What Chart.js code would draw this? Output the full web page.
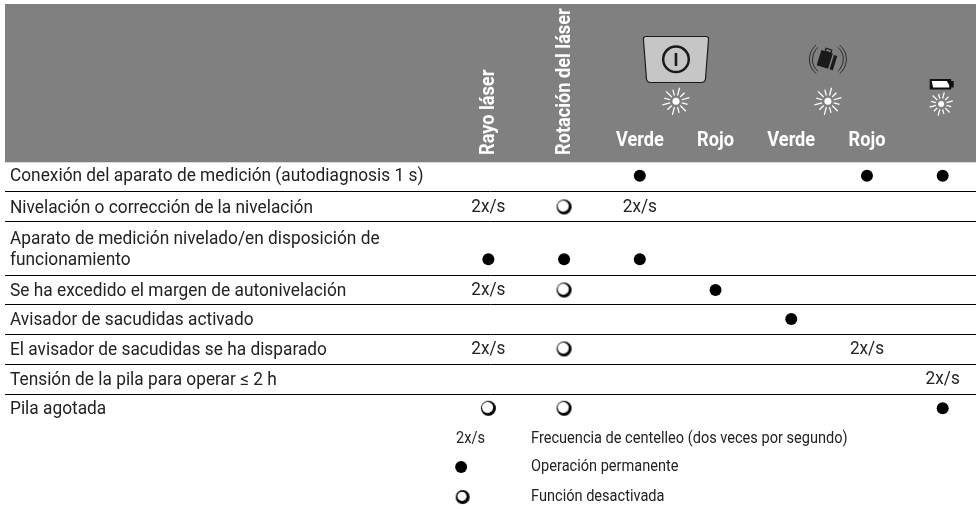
<!DOCTYPE html>
<html>
<head>
<meta charset="utf-8">
<style>
  html, body { margin: 0; padding: 0; background: #fff; }
  canvas { display: block; }
</style>
<script src="https://cdn.jsdelivr.net/npm/chart.js@4"></script>
</head>
<body>
<canvas id="statusChart" width="976" height="509"></canvas>
<script>
// --- data ---
const rowLabels = [
    ['Conexión del aparato de medición (autodiagnosis 1 s)'],
    ['Nivelación o corrección de la nivelación'],
    ['Aparato de medición nivelado/en disposición de', 'funcionamiento'],
    ['Se ha excedido el margen de autonivelación'],
    ['Avisador de sacudidas activado'],
    ['El avisador de sacudidas se ha disparado'],
    ['Tensión de la pila para operar ≤ 2 h'],
    ['Pila agotada']
];
const rayoLaser     = ['',   '2x/s', 'on',   '2x/s', '',   '2x/s', '',     'off'];
const rotacionLaser = ['',   'off',  'on',   'off',  '',   'off',  '',     'off'];
const botonVerde    = ['on', '2x/s', 'on',   '',     '',   '',     '',     ''];
const botonRojo     = ['',   '',     '',     'on',   '',   '',     '',     ''];
const sacudidaVerde = ['',   '',     '',     '',     'on', '',     '',     ''];
const sacudidaRojo  = ['on', '',     '',     '',     '',   '2x/s', '',     ''];
const pilaEstado    = ['on', '',     '',     '',     '',   '',     '2x/s', 'on'];
const columnSeries = [rayoLaser, rotacionLaser, botonVerde, botonRojo, sacudidaVerde, sacudidaRojo, pilaEstado];

const rotatedHeads = ['Rayo láser', 'Rotación del láser'];
const colorHeads = ['Verde', 'Rojo', 'Verde', 'Rojo'];
const legendLabels = ['Frecuencia de centelleo (dos veces por segundo)', 'Operación permanente', 'Función desactivada'];

// row rules in y-axis units (1 unit = one text row), 0 is the bottom of the grey header
const rowRules = [0.973, 1.973, 3.773, 4.74, 5.74, 6.74, 7.74];
const rowCenters = [0.447, 1.49, 3.233, 4.257, 5.223, 6.223, 7.24, 8.2];
const legendRows = [9.223, 10.157, 11.157];

const ink = '#222';
const bodyFont = '18.5px Roboto';
const smallFont = '16px Roboto';
const headFont = 'bold 21px Roboto';

// open circle with the heavier lower right edge
function makeOpenMark(outer, inner, shift) {
    const size = Math.ceil(outer * 2) + 2;
    const mid = size / 2;
    const c = document.createElement('canvas');
    c.width = size; c.height = size;
    const g = c.getContext('2d');
    g.fillStyle = '#000';
    g.beginPath(); g.arc(mid, mid, outer, 0, Math.PI * 2); g.fill();
    g.fillStyle = '#fff';
    g.beginPath(); g.arc(mid - shift, mid - shift, inner, 0, Math.PI * 2); g.fill();
    return c;
}

function cellPoints(state) {
    const pts = [];
    columnSeries.forEach((series, col) => {
        series.forEach((v, row) => {
            if (v === state) pts.push({ x: col, y: rowCenters[row] });
        });
    });
    return pts;
}

const keyColumn = -0.36;

function squeezed(ctx, text, x, y, factor) {
    ctx.save();
    ctx.translate(x, y);
    ctx.scale(factor, 1);
    ctx.fillText(text, 0, 0);
    ctx.restore();
}

function drawSpark(ctx, x, y, r, dot) {
    ctx.save();
    ctx.strokeStyle = '#fff';
    ctx.fillStyle = '#fff';
    ctx.lineWidth = 1.25;
    for (let i = 0; i < 12; i++) {
        const a = i * Math.PI / 6 + Math.PI / 12;
        const end = i % 2 ? r : r * 0.86;
        ctx.beginPath();
        ctx.moveTo(x + Math.cos(a) * (dot + 2.5), y + Math.sin(a) * (dot + 2.5));
        ctx.lineTo(x + Math.cos(a) * end, y + Math.sin(a) * end);
        ctx.stroke();
    }
    ctx.beginPath(); ctx.arc(x, y, dot, 0, Math.PI * 2); ctx.fill();
    ctx.restore();
}

function drawButton(ctx, cx) {
    ctx.save();
    ctx.fillStyle = '#c6c6c6';
    ctx.strokeStyle = '#1a1a1a';
    ctx.lineWidth = 1.2;
    ctx.beginPath();
    ctx.moveTo(cx - 30, 36.5);
    ctx.lineTo(cx + 30, 36.5);
    ctx.quadraticCurveTo(cx + 33, 36.5, cx + 32.5, 40);
    ctx.lineTo(cx + 29.5, 79);
    ctx.quadraticCurveTo(cx + 29, 82.5, cx + 25, 82.5);
    ctx.lineTo(cx - 25, 82.5);
    ctx.quadraticCurveTo(cx - 29, 82.5, cx - 29.5, 79);
    ctx.lineTo(cx - 32.5, 40);
    ctx.quadraticCurveTo(cx - 33, 36.5, cx - 30, 36.5);
    ctx.closePath();
    ctx.fill(); ctx.stroke();
    ctx.lineWidth = 2.5;
    ctx.beginPath(); ctx.arc(cx, 59.3, 12.8, 0, Math.PI * 2); ctx.stroke();
    ctx.lineWidth = 2.6;
    ctx.beginPath(); ctx.moveTo(cx, 53); ctx.lineTo(cx, 66); ctx.stroke();
    ctx.restore();
}

function drawShake(ctx, cx) {
    ctx.save();
    ctx.translate(cx, 59.3);
    ctx.strokeStyle = '#222';
    ctx.lineWidth = 0.9;
    [15.5, 18.5].forEach(r => {
        ctx.beginPath(); ctx.arc(0, 0, r, Math.PI * 0.72, Math.PI * 1.28); ctx.stroke();
        ctx.beginPath(); ctx.arc(0, 0, r, -Math.PI * 0.28, Math.PI * 0.28); ctx.stroke();
    });
    ctx.rotate(0.3);
    ctx.fillStyle = '#1a1a1a';
    ctx.fillRect(-9, -7, 12, 16);
    ctx.fillRect(4.5, -6, 3.5, 15);
    ctx.lineWidth = 1.2;
    ctx.strokeStyle = '#1a1a1a';
    ctx.strokeRect(-5, -10, 6, 3);
    ctx.restore();
}

function drawBattery(ctx, cx) {
    ctx.save();
    ctx.fillStyle = '#111';
    ctx.fillRect(cx - 12, 79, 21.5, 10.5);
    ctx.fillRect(cx + 9, 81, 3, 6.5);
    ctx.fillStyle = '#fff';
    ctx.beginPath();
    ctx.moveTo(cx - 10, 81); ctx.lineTo(cx + 5, 81); ctx.lineTo(cx + 7.5, 85);
    ctx.lineTo(cx + 7.5, 87.5); ctx.lineTo(cx - 8.5, 87.5);
    ctx.closePath(); ctx.fill();
    ctx.restore();
}

const tablePlugin = {
    id: 'tablePlugin',
    beforeDatasetsDraw(chart) {
        const ctx = chart.ctx;
        const xs = chart.scales.x, ys = chart.scales.y;
        const px = v => xs.getPixelForValue(v);
        const py = v => ys.getPixelForValue(v);

        // grey header band
        ctx.save();
        ctx.fillStyle = '#808080';
        ctx.fillRect(5, 4, 971, py(0) - 4);

        // header labels
        ctx.fillStyle = '#fff';
        ctx.font = headFont;
        ctx.textBaseline = 'alphabetic';
        ctx.textAlign = 'left';
        rotatedHeads.forEach((t, i) => {
            ctx.save();
            ctx.translate(px(i) + 6, 155);
            ctx.rotate(-Math.PI / 2);
            squeezed(ctx, t, 0, 0, 0.865);
            ctx.restore();
        });
        ctx.textAlign = 'center';
        colorHeads.forEach((t, i) => squeezed(ctx, t, px(i + 2), 146, 0.865));

        // header icons
        const buttonX = (px(2) + px(3)) / 2 - 1.7;
        const shakeX = (px(4) + px(5)) / 2 - 1.2;
        drawButton(ctx, buttonX);
        drawSpark(ctx, buttonX, 101.3, 14, 3.5);
        drawShake(ctx, shakeX);
        drawSpark(ctx, shakeX, 101.3, 14, 3.5);
        drawBattery(ctx, px(6) - 1);
        drawSpark(ctx, px(6) - 1.5, 104, 12, 3);

        // row labels
        ctx.fillStyle = ink;
        ctx.font = bodyFont;
        ctx.textAlign = 'left';
        ctx.textBaseline = 'middle';
        rowLabels.forEach((lines, i) => {
            if (lines.length === 1) {
                squeezed(ctx, lines[0], 10, py(rowCenters[i]) + 1, 0.935);
            } else {
                squeezed(ctx, lines[0], 10, py(rowCenters[i] - 0.7) + 1, 0.935);
                squeezed(ctx, lines[1], 10, py(rowCenters[i]) + 1, 0.935);
            }
        });

        // 2x/s cells
        ctx.textAlign = 'center';
        cellPoints('2x/s').forEach(p => squeezed(ctx, '2x/s', px(p.x), py(p.y), 0.93));

        // key under the table
        ctx.font = smallFont;
        ctx.textAlign = 'left';
        squeezed(ctx, '2x/s', px(-0.427), py(legendRows[0]), 0.91);
        legendLabels.forEach((t, i) => squeezed(ctx, t, px(0.564), py(legendRows[i]), 0.91));
        ctx.restore();
    }
};

document.addEventListener('DOMContentLoaded', function () {
    const ctx = document.getElementById('statusChart');
    new Chart(ctx, {
        type: 'scatter',
        data: {
            datasets: [
                {
                    label: 'Operación permanente',
                    data: cellPoints('on').concat([{ x: keyColumn, y: legendRows[1] }]),
                    pointStyle: 'circle',
                    pointRadius: 6,
                    backgroundColor: '#000',
                    borderWidth: 0
                },
                {
                    label: 'Función desactivada',
                    data: cellPoints('off'),
                    pointStyle: makeOpenMark(7.5, 5.6, 0.9)
                },
                {
                    label: 'Función desactivada (clave)',
                    data: [{ x: keyColumn + 0.02, y: legendRows[2] }],
                    pointStyle: makeOpenMark(7, 4.6, 0.7)
                }
            ]
        },
        options: {
            responsive: false,
            animation: false,
            layout: { autoPadding: false, padding: { left: 5, right: 0, top: 0, bottom: 0 } },
            plugins: { legend: { display: false }, tooltip: { enabled: false } },
            scales: {
                x: {
                    type: 'linear',
                    min: -6.384,
                    max: 6.44,
                    display: false
                },
                y: {
                    type: 'linear',
                    reverse: true,
                    min: -5.41,
                    max: 11.557,
                    afterBuildTicks(axis) { axis.ticks = rowRules.map(v => ({ value: v })); },
                    ticks: { display: false },
                    border: { display: false },
                    grid: { color: '#000', lineWidth: 1, drawTicks: false }
                }
            }
        },
        plugins: [tablePlugin]
    });
});
</script>
</body>
</html>
